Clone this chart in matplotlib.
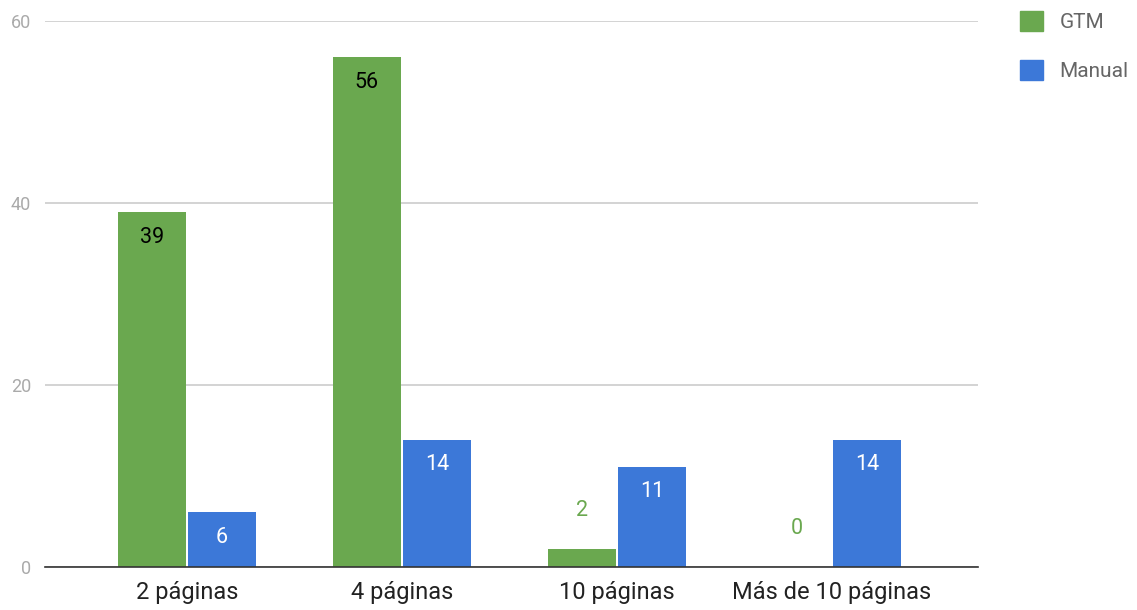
import matplotlib.pyplot as plt
import matplotlib.patches as mpatches
import numpy as np

plt.rcParams['font.family'] = ['Roboto', 'DejaVu Sans']

categories = ["2 páginas", "4 páginas", "10 páginas", "Más de 10 páginas"]
gtm = [39, 56, 2, 0]
manual = [6, 14, 11, 14]
series_names = ["GTM", "Manual"]

green = "#6aa84f"
blue = "#3c78d8"

fig = plt.figure(figsize=(11.37, 6.1), dpi=100)
ax = fig.add_axes([45 / 1137, 43 / 610, (978 - 45) / 1137, (567 - 21) / 610])

x = np.arange(len(categories))
off = 0.163
w = 0.316
ax.bar(x - off, gtm, w, color=green)
ax.bar(x + off, manual, w, color=blue)

# etiquetas de valor: dentro de la barra si cabe, si no encima
px = 60 / 546  # unidades de datos por pixel
for xi, v in zip(x - off, gtm):
    if v >= 5:
        ax.text(xi, v - 25 * px, str(v), ha="center", va="center", fontsize=15.5, color="black")
    else:
        ax.text(xi, v + 38 * px, str(v), ha="center", va="center", fontsize=15.5, color=green)
for xi, v in zip(x + off, manual):
    ax.text(xi, v - 25 * px, str(v), ha="center", va="center", fontsize=15.5, color="white")

ax.set_xlim(-0.66, 3.679)
ax.set_ylim(0, 60)
ax.set_yticks([0, 20, 40, 60])
ax.yaxis.grid(True, color="#cccccc", linewidth=1.2)
ax.set_axisbelow(True)
ax.tick_params(axis="y", length=0, labelsize=13, labelcolor="#aaaaaa", pad=10)
ax.set_xticks(x)
ax.set_xticklabels(categories)
ax.tick_params(axis="x", length=0, labelsize=17, labelcolor="#222222", pad=10)
for s in ["top", "right", "left"]:
    ax.spines[s].set_visible(False)
ax.spines["bottom"].set_color("#333333")
ax.spines["bottom"].set_linewidth(1.2)

handles = [mpatches.Patch(color=green, label=series_names[0]),
           mpatches.Patch(color=blue, label=series_names[1])]
leg = fig.legend(handles=handles, loc="upper left", bbox_to_anchor=(1020 / 1137, 1 - 11 / 610),
                 frameon=False, borderpad=0, borderaxespad=0, handlelength=1.1, handleheight=1.1,
                 labelspacing=1.35, fontsize=15, handletextpad=0.8)
for t in leg.get_texts():
    t.set_color("#666666")

fig.savefig("out.png", dpi=100)
